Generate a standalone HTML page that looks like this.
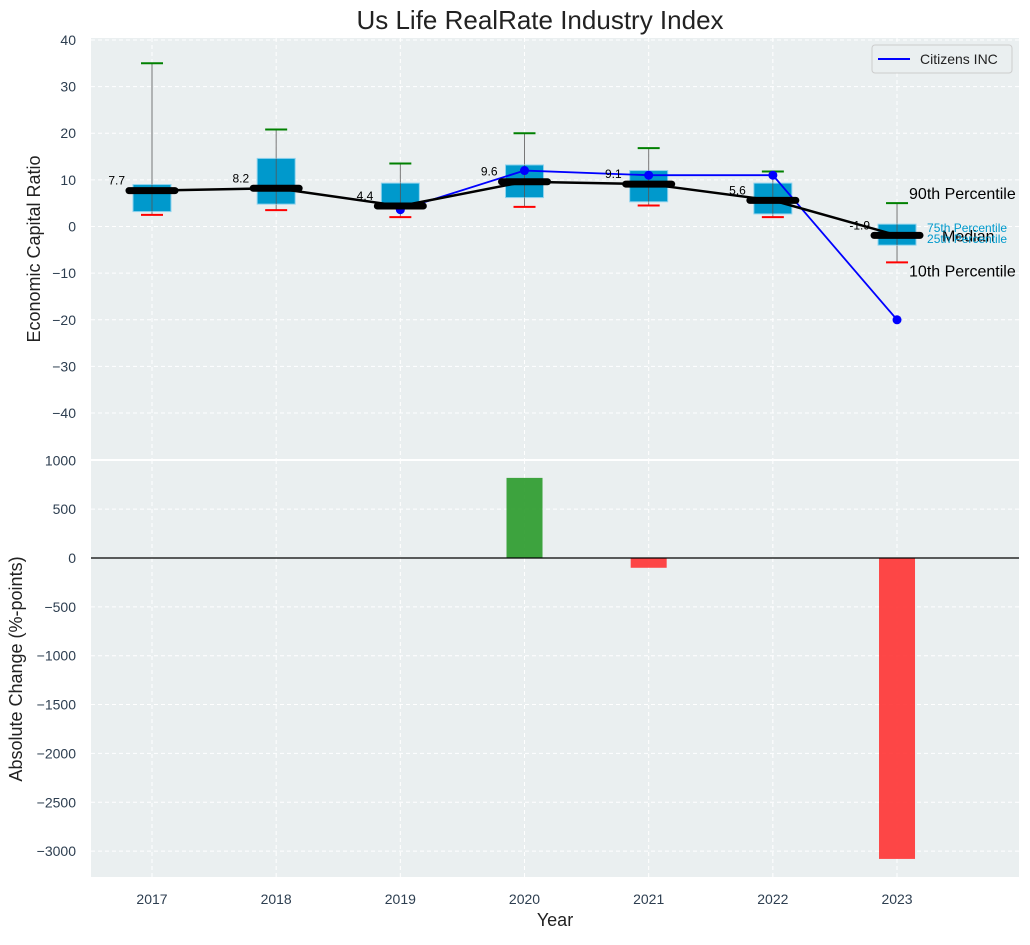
<!DOCTYPE html>
<html><head><meta charset="utf-8"><style>
body{margin:0;background:#fff;}
svg{font-family:"Liberation Sans",sans-serif;}
</style></head><body>
<svg id="chart" width="1030" height="940" viewBox="0 0 1030 940" xmlns="http://www.w3.org/2000/svg">
<rect x="0" y="0" width="1030" height="940" fill="#fff"/>
<text x="540" y="29" font-size="26" text-anchor="middle" fill="#222">Us Life RealRate Industry Index</text>
<rect x="91" y="38" width="928" height="422" fill="#eaeff0"/>
<rect x="91" y="460" width="928" height="417" fill="#eaeff0"/>
<g id="grid"></g>
<g id="marks"></g>
<text transform="translate(40,249) rotate(-90)" font-size="18" text-anchor="middle" fill="#222">Economic Capital Ratio</text>
<text transform="translate(22,669) rotate(-90)" font-size="18" text-anchor="middle" fill="#222">Absolute Change (%-points)</text>
<text x="555" y="926" font-size="18" text-anchor="middle" fill="#222">Year</text>
<g>
<rect x="872" y="45" width="140" height="28" rx="3" fill="#eaeff0" stroke="#ccc"/>
<line x1="878" y1="59" x2="910" y2="59" stroke="#00f" stroke-width="2"/>
<text x="920" y="64" font-size="14" fill="#222">Citizens INC</text>
</g>
</svg>
<script>
const years=[2017,2018,2019,2020,2021,2022,2023];
const p10=[2.5,3.5,2.0,4.2,4.5,2.0,-7.7];
const q1=[3.2,4.8,4.0,6.2,5.3,2.7,-4.0];
const medians=[7.7,8.2,4.4,9.6,9.1,5.6,-1.9];
const q3=[9.0,14.6,9.3,13.2,12.0,9.3,0.5];
const p90=[35,20.8,13.5,20,16.8,11.8,5];
const citizens=[null,null,3.6,12,11,11,-20];
const change=[null,null,null,820,-100,null,-3080];
const topTicks=[40,30,20,10,0,-10,-20,-30,-40];
const botTicks=[1000,500,0,-500,-1000,-1500,-2000,-2500,-3000];

const NS="http://www.w3.org/2000/svg";
const X=y=>152+(y-2017)*124.17;
const YT=v=>226.5-v*4.663;
const YB=v=>558-v*0.0977;
function mk(p,tag,attrs){const e=document.createElementNS(NS,tag);for(const k in attrs)e.setAttribute(k,attrs[k]);p.appendChild(e);return e;}
const grid=document.getElementById('grid'),marks=document.getElementById('marks');
topTicks.forEach(t=>{const y=YT(t);
 const l=mk(grid,'line',{x1:91,x2:1019,y1:y,y2:y,stroke:'#fff','stroke-dasharray':'4,3'});
 
 const tx=mk(grid,'text',{x:76,y:y+5,'font-size':14,'text-anchor':'end',fill:'#2d3e50'});tx.textContent=String(t).replace('-','\u2212');
 });
botTicks.forEach(t=>{const y=YB(t);
 const l=mk(grid,'line',{x1:91,x2:1019,y1:y,y2:y,stroke:'#fff','stroke-dasharray':'4,3'});
 
 const tx=mk(grid,'text',{x:76,y:y+5,'font-size':14,'text-anchor':'end',fill:'#2d3e50'});tx.textContent=String(t).replace('-','\u2212');
 });
mk(grid,'line',{x1:91,x2:1019,y1:460,y2:460,stroke:'#fff','stroke-width':2});
years.forEach(yr=>{const x=X(yr);
 [[38,460],[460,877]].forEach(r=>{const l=mk(grid,'line',{x1:x,x2:x,y1:r[0],y2:r[1],stroke:'#fff','stroke-dasharray':'4,3'});
 });
 const tx=mk(grid,'text',{x:x,y:904,'font-size':14,'text-anchor':'middle',fill:'#2d3e50'});tx.textContent=yr;
 });
years.forEach((yr,i)=>{const v=change[i];if(v==null)return;const x=X(yr);
 const r=mk(marks,'rect',{x:x-18,width:36,y:Math.min(YB(0),YB(v)),height:Math.abs(YB(v)-YB(0)),fill:v>=0?'#2a9a2a':'#ff3333','fill-opacity':0.9});
 });
mk(marks,'line',{x1:91,x2:1019,y1:YB(0),y2:YB(0),stroke:'#000','stroke-width':1.2});
years.forEach((yr,i)=>{const x=X(yr);
 const w=mk(marks,'line',{x1:x,x2:x,y1:YT(p90[i]),y2:YT(p10[i]),stroke:'#777','stroke-width':1});
 
 const b=mk(marks,'rect',{x:x-19,width:38,y:YT(q3[i]),height:YT(q1[i])-YT(q3[i]),fill:'#0099cc',stroke:'#8fd3ee','stroke-width':1});
 
 mk(marks,'line',{x1:x,x2:x,y1:YT(q3[i]),y2:YT(q1[i]),stroke:'#555','stroke-width':0.8});
 const h=mk(marks,'line',{x1:x-11,x2:x+11,y1:YT(p90[i]),y2:YT(p90[i]),stroke:'green','stroke-width':2});
 
 const lo=mk(marks,'line',{x1:x-11,x2:x+11,y1:YT(p10[i]),y2:YT(p10[i]),stroke:'red','stroke-width':2});
 
});
let pts=[];years.forEach((yr,i)=>{if(citizens[i]!=null)pts.push([X(yr),YT(citizens[i])]);});
const cl=mk(marks,'polyline',{points:pts.map(p=>p.join(',')).join(' '),fill:'none',stroke:'#00f','stroke-width':1.8});

pts.forEach(p=>{const c=mk(marks,'circle',{cx:p[0],cy:p[1],r:4.5,fill:'#00f'});
 });
const ml=mk(marks,'polyline',{points:years.map((yr,i)=>X(yr)+','+YT(medians[i])).join(' '),fill:'none',stroke:'#000','stroke-width':2.5});

years.forEach((yr,i)=>{const x=X(yr),y=YT(medians[i]);
 const m=mk(marks,'line',{x1:x-23,x2:x+23,y1:y,y2:y,stroke:'#000','stroke-width':7,'stroke-linecap':'round'});
 
 const t=mk(marks,'text',{x:x-27,y:y-6,'font-size':12,'text-anchor':'end',fill:'#000'});t.textContent=medians[i].toFixed(1);
 });
const L=years.length-1,ax=X(years[L]);
[['90th Percentile',ax+12,YT(p90[L])-4,16,'#000'],['10th Percentile',ax+12,YT(p10[L])+14,16,'#000'],
 ['Median',ax+45,YT(medians[L])+6,16,'#000'],['75th Percentile',ax+30,YT(q3[L])+8,12,'#0099cc'],['25th Percentile',ax+30,YT(q1[L])-2,12,'#0099cc']]
.forEach(a=>{const t=mk(marks,'text',{x:a[1],y:a[2],'font-size':a[3],fill:a[4]});t.textContent=a[0];
 });
</script>
</body></html>
